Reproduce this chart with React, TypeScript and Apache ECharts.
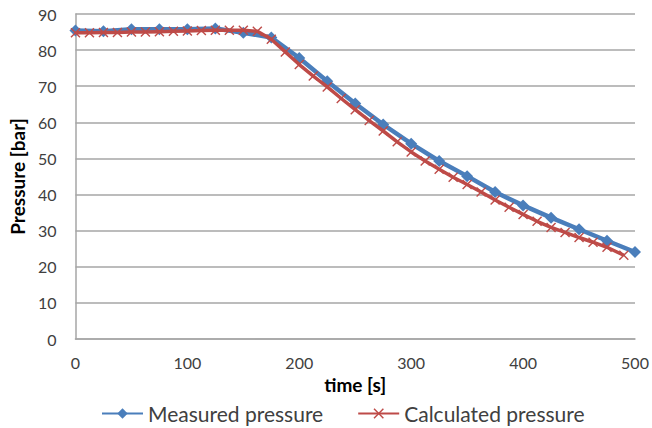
import React, { useEffect, useRef } from "react";
import * as echarts from "echarts";

const measuredTime = [0, 25, 50, 75, 100, 125, 150, 175, 200, 225, 250, 275, 300, 325, 350, 375, 400, 425, 450, 475, 500];
const measuredPressure = [85.4, 85.2, 85.8, 85.8, 85.8, 86.0, 84.8, 83.5, 77.8, 71.4, 65.2, 59.4, 54.1, 49.3, 45.1, 40.7, 37.0, 33.6, 30.4, 27.2, 24.1];

const calcTime = [0, 12.5, 25, 37.5, 50, 62.5, 75, 87.5, 100, 112.5, 125, 137.5, 150, 162.5, 175, 187.5, 200, 212.5, 225, 237.5, 250, 262.5, 275, 287.5, 300, 312.5, 325, 337.5, 350, 362.5, 375, 387.5, 400, 412.5, 425, 437.5, 450, 462.5, 475, 490];
const calcPressure = [84.8, 84.8, 84.9, 84.9, 85.0, 85.0, 85.1, 85.2, 85.3, 85.4, 85.5, 85.5, 85.5, 85.2, 83.0, 79.5, 76.0, 72.8, 69.8, 66.6, 63.5, 60.5, 57.6, 54.6, 51.8, 49.3, 47.0, 44.8, 42.8, 40.7, 38.5, 36.5, 34.5, 32.6, 30.9, 29.5, 28.1, 26.8, 25.4, 23.2];

const xTicks = { min: 0, max: 500, interval: 100 };
const yTicks = { min: 0, max: 90, interval: 10 };

const FONT = "Lato";
const TEXT = "#404040";
const BLUE = "#4a7ebb";
const RED = "#be4b48";
const X_SYMBOL = "path://M0,1 L1,0 L5,4 L9,0 L10,1 L6,5 L10,9 L9,10 L5,6 L1,10 L0,9 L4,5 Z";

export default function App() {
  const ref = useRef<HTMLDivElement>(null);
  useEffect(() => {
    if (!ref.current) return;
    const chart = echarts.init(ref.current, undefined, { renderer: "svg" });
    chart.setOption({
      animation: false,
      backgroundColor: "#ffffff",
      textStyle: { fontFamily: FONT },
      grid: { left: 73, right: 17, top: 14, bottom: 89, containLabel: false },
      legend: {
        top: 398,
        left: 96,
        itemWidth: 41,
        itemHeight: 13,
        itemGap: 34,
        textStyle: { fontFamily: FONT, fontSize: 21, color: TEXT },
        data: ["Measured pressure", "Calculated pressure"],
      },
      xAxis: {
        type: "value",
        min: xTicks.min,
        max: xTicks.max,
        interval: xTicks.interval,
        name: "time [s]",
        nameLocation: "middle",
        nameGap: 23,
        nameTextStyle: { fontFamily: FONT, fontSize: 19, fontWeight: "bold", color: "#000" },
        axisLine: { show: true, lineStyle: { color: "#a6a6a6", width: 1.5 } },
        axisTick: { show: false },
        splitLine: { show: false },
        axisLabel: { fontFamily: FONT, fontSize: 16, color: TEXT, margin: 15 },
      },
      yAxis: {
        type: "value",
        min: yTicks.min,
        max: yTicks.max,
        interval: yTicks.interval,
        name: "Pressure [bar]",
        nameLocation: "middle",
        nameGap: 46,
        nameTextStyle: { fontFamily: FONT, fontSize: 19, fontWeight: "bold", color: "#000" },
        axisLine: { show: true, lineStyle: { color: "#a6a6a6", width: 1.5 } },
        axisTick: { show: false },
        splitLine: { show: true, lineStyle: { color: "#a6a6a6", width: 1.5 } },
        axisLabel: { fontFamily: FONT, fontSize: 16, color: TEXT, margin: 19 },
      },
      series: [
        {
          name: "Measured pressure",
          type: "line",
          data: measuredTime.map((t, i) => [t, measuredPressure[i]]),
          symbol: "diamond",
          symbolSize: 12,
          lineStyle: { color: BLUE, width: 4.5 },
          itemStyle: { color: BLUE },
          z: 2,
        },
        {
          name: "Calculated pressure",
          type: "line",
          data: calcTime.map((t, i) => [t, calcPressure[i]]),
          symbol: X_SYMBOL,
          symbolSize: 10,
          lineStyle: { color: RED, width: 3.5 },
          itemStyle: { color: RED },
          z: 3,
        },
      ],
    });
    return () => chart.dispose();
  }, []);
  return <div ref={ref} style={{ position: "fixed", left: 0, top: 0, width: 652, height: 428 }} />;
}
